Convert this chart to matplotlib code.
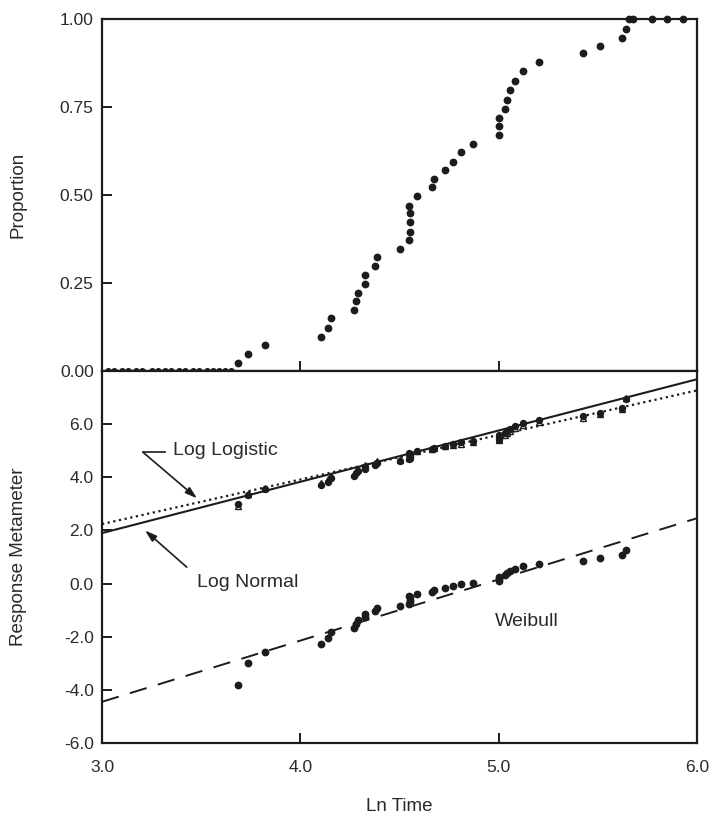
import matplotlib
matplotlib.use("Agg")
import matplotlib.pyplot as plt

plt.rcParams['font.family'] = ['Liberation Sans', 'DejaVu Sans']
plt.rcParams['axes.unicode_minus'] = False

# ---------------- data ----------------
# Ln time of fish with proportion responding 0 (top panel, bottom row)
zero_time = [3.03, 3.06, 3.10, 3.13, 3.17, 3.20, 3.25, 3.28, 3.32, 3.35,
             3.39, 3.42, 3.46, 3.49, 3.53, 3.56, 3.59, 3.62, 3.65]
# Ln time of fish with proportion 1.00 (top panel, top row)
one_time = [5.657, 5.677, 5.771, 5.850, 5.929]

# Points with 0 < proportion < 1
time = [3.685, 3.735, 3.824, 4.105, 4.141, 4.157, 4.272, 4.283, 4.293, 4.325,
        4.325, 4.374, 4.386, 4.503, 4.549, 4.551, 4.551, 4.551, 4.549, 4.586,
        4.666, 4.672, 4.731, 4.771, 4.810, 4.870, 5.000, 5.001, 5.003, 5.032,
        5.044, 5.056, 5.082, 5.125, 5.203, 5.424, 5.513, 5.622, 5.640]
proportion = [0.022, 0.049, 0.074, 0.098, 0.123, 0.150, 0.174, 0.198, 0.223, 0.247,
              0.272, 0.297, 0.325, 0.348, 0.372, 0.396, 0.422, 0.448, 0.469, 0.497,
              0.522, 0.546, 0.570, 0.595, 0.621, 0.646, 0.670, 0.695, 0.720, 0.745,
              0.771, 0.797, 0.825, 0.852, 0.877, 0.902, 0.924, 0.945, 0.973]

# Response metameters (bottom panel)
log_normal = [2.99, 3.35, 3.55, 3.71, 3.84, 3.96, 4.06, 4.15, 4.24, 4.32,
              4.39, 4.47, 4.55, 4.61, 4.67, 4.74, 4.80, 4.87, 4.92, 4.99,
              5.06, 5.12, 5.18, 5.24, 5.31, 5.38, 5.44, 5.51, 5.58, 5.66,
              5.74, 5.83, 5.94, 6.05, 6.16, 6.29, 6.43, 6.60, 6.93]
log_logistic = [2.91, 3.37, 3.61, 3.78, 3.92, 4.04, 4.14, 4.23, 4.31, 4.39,
                4.46, 4.53, 4.60, 4.65, 4.71, 4.77, 4.83, 4.89, 4.93, 4.99,
                5.05, 5.10, 5.16, 5.21, 5.27, 5.33, 5.39, 5.45, 5.52, 5.59,
                5.67, 5.75, 5.85, 5.96, 6.08, 6.22, 6.38, 6.57, 6.98]
weibull = [-3.81, -2.99, -2.57, -2.27, -2.03, -1.82, -1.66, -1.51, -1.38, -1.26,
           -1.15, -1.04, -0.93, -0.85, -0.77, -0.69, -0.60, -0.52, -0.46, -0.38,
           -0.30, -0.24, -0.17, -0.10, -0.03, 0.04, 0.10, 0.17, 0.24, 0.31,
           0.39, 0.47, 0.56, 0.65, 0.74, 0.84, 0.95, 1.07, 1.28]

# Fitted lines (end points)
fit_x = [3.0, 6.0]
fit_log_normal = [1.90, 7.69]
fit_log_logistic = [2.24, 7.27]
fit_weibull = [-4.45, 2.46]

top_yticks = [0.0, 0.25, 0.50, 0.75, 1.00]
top_yticklabels = ["0.00", "0.25", "0.50", "0.75", "1.00"]
bot_yticks = [-6, -4, -2, 0, 2, 4, 6]
bot_yticklabels = ["-6.0", "-4.0", "-2.0", "0.0", "2.0", "4.0", "6.0"]
xticks = [3, 4, 5, 6]
xticklabels = ["3.0", "4.0", "5.0", "6.0"]

# ---------------- figure ----------------
INK = "#1c1c1c"
TXT = "#2a2a2a"
W, H = 714, 816
fig = plt.figure(figsize=(W / 100, H / 100), dpi=100)
fig.patch.set_facecolor("white")

left = 102 / W
width = (697 - 102) / W
ax_top = fig.add_axes([left, 1 - 371 / H, width, (371 - 19) / H])
ax_bot = fig.add_axes([left, 1 - 743 / H, width, (743 - 371) / H])

for ax in (ax_top, ax_bot):
    for s in ax.spines.values():
        s.set_linewidth(1.6)
        s.set_color(INK)
    ax.set_xlim(3.0, 6.0)
    ax.set_xticks(xticks)
    ax.tick_params(direction="in", length=7, width=1.4, color=INK,
                   labelsize=12.5, labelcolor=TXT)
    ax.tick_params(axis="y", pad=6)
    ax.tick_params(axis="x", pad=12)

# top panel
ax_top.set_ylim(0, 1)
ax_top.set_yticks(top_yticks)
ax_top.set_yticklabels(top_yticklabels)
ax_top.tick_params(labelbottom=False)
ax_top.plot(zero_time, [0.0] * len(zero_time), "o", ms=4.0, color=INK, clip_on=False, zorder=3)
ax_top.plot(time, proportion, "o", ms=4.6, color=INK, clip_on=False, zorder=3)
ax_top.plot(one_time, [1.0] * len(one_time), "o", ms=4.6, color=INK, clip_on=False, zorder=3)
ax_top.set_ylabel("Proportion", fontsize=13.5, color=TXT, va="center")
ax_top.yaxis.set_label_coords(-0.141, 0.5)

# bottom panel
ax_bot.set_ylim(-6, 8)
ax_bot.set_yticks(bot_yticks)
ax_bot.set_yticklabels(bot_yticklabels)
ax_bot.set_xticklabels(xticklabels)

ax_bot.plot(fit_x, fit_log_normal, "-", lw=1.5, color=INK)
ax_bot.plot(fit_x, fit_log_logistic, linestyle=(0, (1, 1.6)), lw=1.6, color=INK)
ax_bot.plot(fit_x, fit_weibull, linestyle=(0, (9, 6)), lw=1.4, color=INK)

ax_bot.plot(time, log_logistic, "^", ms=5, mfc="white", mec=INK, mew=1.0, zorder=3)
ax_bot.plot(time, log_normal, "o", ms=4.3, color=INK, zorder=4)
ax_bot.plot(time, weibull, "o", ms=4.6, color=INK, zorder=3)

ax_bot.set_ylabel("Response Metameter", fontsize=13.5, color=TXT, va="center")
ax_bot.yaxis.set_label_coords(-0.141, 0.5)
ax_bot.set_xlabel("Ln Time", fontsize=13.5, color=TXT, labelpad=17)

# annotations
arrow = dict(arrowstyle="-|>,head_length=0.7,head_width=0.22", color=INK, lw=1.2,
             shrinkA=0, shrinkB=0)
ax_bot.text(3.36, 5.02, "Log Logistic", fontsize=14, color=TXT, ha="left", va="center")
ax_bot.plot([3.207, 3.32], [4.94, 4.94], "-", lw=1.2, color=INK)
ax_bot.annotate("", xy=(3.479, 3.21), xytext=(3.207, 4.94), arrowprops=arrow)

ax_bot.text(3.48, 0.05, "Log Normal", fontsize=14, color=TXT, ha="left", va="center")
ax_bot.annotate("", xy=(3.217, 2.0), xytext=(3.427, 0.62), arrowprops=arrow)

ax_bot.text(4.98, -1.43, "Weibull", fontsize=14, color=TXT, ha="left", va="center")

fig.savefig("out.png", dpi=100, facecolor="white")
